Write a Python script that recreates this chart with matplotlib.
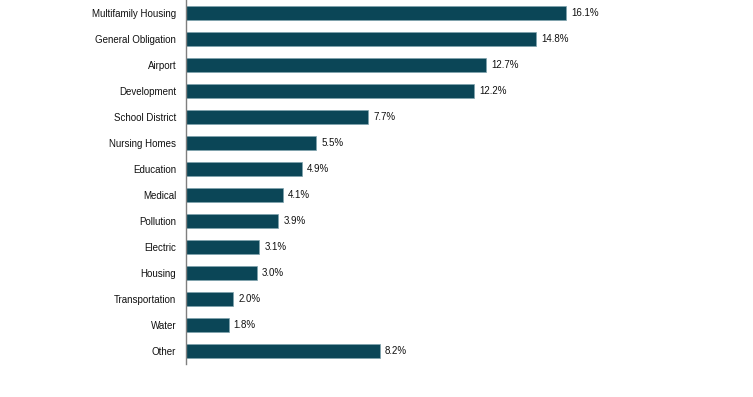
import matplotlib
matplotlib.use("Agg")
import matplotlib.pyplot as plt
from matplotlib import font_manager

categories = ["Multifamily Housing", "General Obligation", "Airport", "Development",
              "School District", "Nursing Homes", "Education", "Medical", "Pollution",
              "Electric", "Housing", "Transportation", "Water", "Other"]
values = [16.1, 14.8, 12.7, 12.2, 7.7, 5.5, 4.9, 4.1, 3.9, 3.1, 3.0, 2.0, 1.8, 8.2]

# condensed font if the narrow face is there
names = {f.name for f in font_manager.fontManager.ttflist}
if "Liberation Sans Narrow" in names:
    plt.rcParams["font.family"] = ["Liberation Sans Narrow", "DejaVu Sans"]
    label_size = 8.4
else:
    plt.rcParams["font.family"] = ["Liberation Sans", "DejaVu Sans"]
    label_size = 7.0
bar_color = "#0b4657"

fig = plt.figure(figsize=(7.53, 3.97), dpi=100)
ax = fig.add_axes([186 / 753, 33 / 397, 567 / 753, 364 / 397])

ypos = range(len(categories))
ax.barh(ypos, values, height=0.54, color=bar_color, edgecolor="#7fa3ad", linewidth=0.5)
for y, v in zip(ypos, values):
    ax.text(v + 0.22, y, f"{v:.1f}%", va="center", ha="left", fontsize=label_size, color="#111111")

ax.set_xlim(0, 24)
ax.set_ylim(13.5, -0.5)
ax.set_yticks(list(ypos))
ax.set_yticklabels(categories, fontsize=label_size, color="#111111")
ax.tick_params(axis="y", length=0, pad=7)
ax.set_xticks([])
for side in ["top", "right", "bottom"]:
    ax.spines[side].set_visible(False)
ax.spines["left"].set_color("#7f7f7f")
ax.spines["left"].set_linewidth(1.0)

fig.savefig("out.png", dpi=100)
